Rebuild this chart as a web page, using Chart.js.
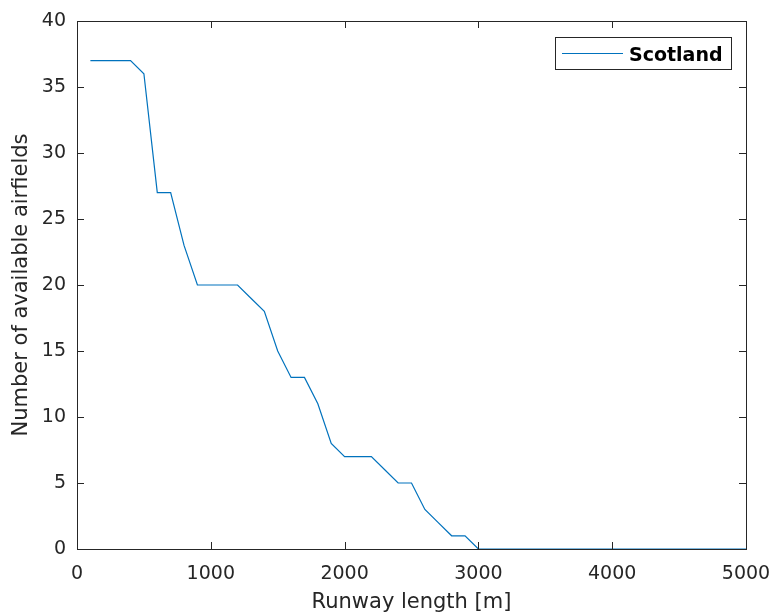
<!DOCTYPE html>
<html>
<head>
<meta charset="utf-8">
<script src="https://cdn.jsdelivr.net/npm/chart.js@4.4.1/dist/chart.umd.min.js"></script>
<style>
  html, body { margin: 0; padding: 0; background: #fff; }
  #wrap { position: relative; width: 775px; height: 615px; }
</style>
</head>
<body>
<div id="wrap"><canvas id="chart" width="775" height="615"></canvas></div>
<script>
// Runway length [m] and number of airfields at least that long
const runwayLength = [100, 200, 300, 400, 500, 600, 700, 800, 900, 1000,
  1100, 1200, 1300, 1400, 1500, 1600, 1700, 1800, 1900, 2000,
  2100, 2200, 2300, 2400, 2500, 2600, 2700, 2800, 2900, 3000,
  3100, 3200, 3300, 3400, 3500, 3600, 3700, 3800, 3900, 4000,
  4100, 4200, 4300, 4400, 4500, 4600, 4700, 4800, 4900, 5000];
const scotland = [37, 37, 37, 37, 36, 27, 27, 23, 20, 20,
  20, 20, 19, 18, 15, 13, 13, 11, 8, 7,
  7, 7, 6, 5, 5, 3, 2, 1, 1, 0,
  0, 0, 0, 0, 0, 0, 0, 0, 0, 0,
  0, 0, 0, 0, 0, 0, 0, 0, 0, 0];
const xTicks = [0, 1000, 2000, 3000, 4000, 5000];
const yTicks = [0, 5, 10, 15, 20, 25, 30, 35, 40];

const FONT = '"DejaVu Sans", "Liberation Sans", Arial, sans-serif';
const AXIS_COLOR = '#262626';

// MATLAB-like frame: box all round, ticks pointing inward on all four sides
const boxAndTicks = {
  id: 'boxAndTicks',
  afterDatasetsDraw(chart) {
    const { ctx, chartArea: a, scales } = chart;
    const len = 7;
    ctx.save();
    ctx.strokeStyle = AXIS_COLOR;
    ctx.lineWidth = 1;
    ctx.beginPath();
    xTicks.forEach(v => {
      const px = Math.round(scales.x.getPixelForValue(v)) + 0.5;
      ctx.moveTo(px, a.bottom); ctx.lineTo(px, a.bottom - len);
      ctx.moveTo(px, a.top); ctx.lineTo(px, a.top + len);
    });
    yTicks.forEach(v => {
      const py = Math.round(scales.y.getPixelForValue(v)) + 0.5;
      ctx.moveTo(a.left, py); ctx.lineTo(a.left + len, py);
      ctx.moveTo(a.right, py); ctx.lineTo(a.right - len, py);
    });
    ctx.stroke();
    ctx.strokeRect(Math.round(a.left) + 0.5, Math.round(a.top) + 0.5,
      Math.round(a.right - a.left), Math.round(a.bottom - a.top));
    ctx.restore();
  }
};

// legend box in the upper right, like MATLAB's 'northeast'
const boxLegend = {
  id: 'boxLegend',
  afterDraw(chart) {
    const { ctx, chartArea: a } = chart;
    const ds = chart.data.datasets[0];
    const w = 176, h = 32;
    const x = Math.round(a.right) - 15 - w, y = Math.round(a.top) + 16;
    ctx.save();
    ctx.fillStyle = '#fff';
    ctx.fillRect(x, y, w, h);
    ctx.strokeStyle = AXIS_COLOR;
    ctx.lineWidth = 1;
    ctx.strokeRect(x + 0.5, y + 0.5, w, h);
    ctx.strokeStyle = ds.borderColor;
    ctx.beginPath();
    ctx.moveTo(x + 7, y + 16.5);
    ctx.lineTo(x + 68, y + 16.5);
    ctx.stroke();
    ctx.fillStyle = '#000';
    ctx.font = 'bold 19px ' + FONT;
    ctx.textBaseline = 'alphabetic';
    ctx.fillText(ds.label, x + 74, y + 24);
    ctx.restore();
  }
};

new Chart(document.getElementById('chart'), {
  type: 'scatter',
  data: {
    datasets: [{
      label: 'Scotland',
      data: runwayLength.map((len, i) => ({ x: len, y: scotland[i] })),
      showLine: true,
      borderColor: '#0072BD',
      borderWidth: 1.2,
      pointRadius: 0,
      tension: 0,
      fill: false
    }]
  },
  options: {
    responsive: false,
    animation: false,
    layout: { padding: { top: 21, right: 29, left: 0, bottom: 0 } },
    plugins: {
      legend: { display: false },
      tooltip: { enabled: false }
    },
    scales: {
      x: {
        type: 'linear',
        min: 0,
        max: 5000,
        afterBuildTicks: s => { s.ticks = xTicks.map(v => ({ value: v })); },
        afterFit: s => { s.height = 66; s.paddingLeft = 0; s.paddingRight = 0; },
        grid: { display: false, drawTicks: false },
        border: { display: false },
        ticks: {
          color: AXIS_COLOR,
          font: { family: FONT, size: 19 },
          padding: 14,
          maxRotation: 0,
          callback: v => String(v)
        },
        title: {
          display: true,
          text: 'Runway length [m]',
          color: AXIS_COLOR,
          font: { family: FONT, size: 21 },
          padding: { top: 0, bottom: 0 }
        }
      },
      y: {
        type: 'linear',
        min: 0,
        max: 40,
        afterBuildTicks: s => { s.ticks = yTicks.map(v => ({ value: v })); },
        afterFit: s => { s.width = 77; s.paddingTop = 0; s.paddingBottom = 0; },
        grid: { display: false, drawTicks: false },
        border: { display: false },
        ticks: {
          color: AXIS_COLOR,
          font: { family: FONT, size: 19 },
          padding: 11,
          callback: v => String(v)
        },
        title: {
          display: true,
          text: 'Number of available airfields',
          color: AXIS_COLOR,
          font: { family: FONT, size: 21 },
          padding: { top: 9, bottom: 0 }
        }
      }
    }
  },
  plugins: [boxAndTicks, boxLegend]
});
</script>
</body>
</html>
